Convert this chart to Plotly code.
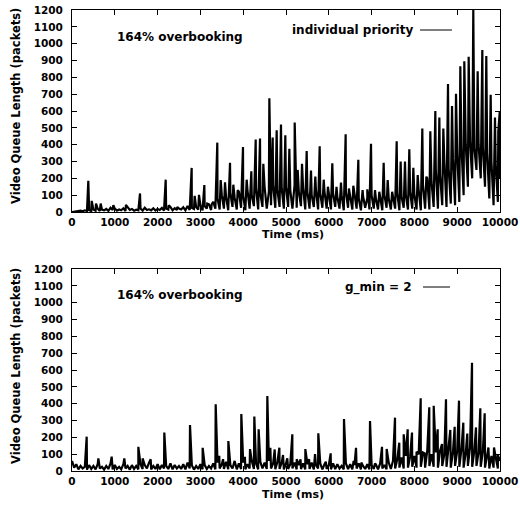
import plotly.graph_objects as go

# ---------------- data ----------------
bg_step_ms = 50
top_background = [
    0, 2, 5, 3, 8, 4, 10, 6, 12, 5,
    15, 8, 20, 6, 14, 10, 18, 7, 25, 12,
    20, 8, 15, 10, 22, 6, 30, 12, 18, 8,
    14, 10, 20, 8, 25, 12, 16, 10, 22, 9,
    18, 12, 24, 8, 20, 14, 30, 10, 22, 12,
    20, 15, 28, 10, 35, 12, 25, 18, 30, 14,
    40, 10, 35, 20, 45, 12, 60, 20, 80, 15,
    100, 20, 90, 10, 110, 30, 85, 15, 120, 25,
    95, 10, 130, 20, 100, 35, 140, 15, 110, 30,
    150, 20, 120, 40, 160, 25, 130, 30, 140, 20,
    150, 30, 130, 20, 160, 25, 120, 35, 140, 15,
    120, 20, 100, 30, 130, 15, 110, 25, 120, 20,
    100, 15, 110, 30, 90, 20, 100, 10, 120, 25,
    90, 15, 100, 20, 80, 10, 95, 25, 85, 15,
    100, 20, 80, 15, 90, 10, 100, 25, 80, 15,
    95, 20, 110, 10, 90, 25, 100, 15, 120, 20,
    100, 15, 130, 10, 160, 20, 200, 15, 180, 30,
    250, 20, 220, 40, 300, 30, 260, 50, 320, 40,
    350, 60, 380, 100, 400, 150, 420, 200, 380, 250,
    400, 200, 380, 150, 350, 80, 300, 40, 280, 60,
    200,
]
top_spike_times = [
    381, 460, 561, 670, 966, 1260, 1589, 2189, 2260, 2460,
    2796, 2866, 2967, 3092, 3160, 3263, 3395, 3474, 3575, 3692,
    3769, 3871, 3995, 4081, 4190, 4292, 4393, 4470, 4611, 4689,
    4782, 4883, 4984, 5078, 5203, 5273, 5374, 5483, 5584, 5685,
    5787, 5881, 5980, 6082, 6180, 6285, 6394, 6470, 6573, 6690,
    6790, 6900, 6986, 7080, 7180, 7282, 7376, 7480, 7586, 7679,
    7780, 7881, 7975, 8077, 8185, 8280, 8372, 8489, 8583, 8676,
    8785, 8879, 8972, 9073, 9166, 9268, 9376, 9478, 9587, 9680,
    9782, 9883, 9960, 9995,
]
top_spike_values = [
    186, 66, 50, 50, 40, 42, 110, 192, 40, 30,
    262, 96, 102, 160, 50, 45, 412, 190, 176, 292,
    162, 130, 386, 192, 242, 430, 436, 286, 676, 442,
    486, 520, 456, 376, 532, 250, 286, 362, 246, 210,
    390, 192, 150, 290, 150, 175, 462, 140, 156, 310,
    130, 135, 406, 130, 120, 292, 190, 120, 420, 300,
    300, 372, 262, 220, 496, 210, 480, 600, 562, 496,
    760, 630, 702, 866, 896, 922, 1200, 836, 962, 926,
    696, 562, 480, 600,
]

bottom_background = [
    60, 20, 40, 10, 30, 15, 25, 8, 35, 12,
    30, 10, 40, 15, 25, 8, 30, 12, 45, 10,
    35, 12, 25, 10, 40, 15, 30, 8, 35, 12,
    30, 10, 40, 12, 35, 15, 50, 10, 30, 12,
    40, 10, 35, 15, 30, 12, 45, 10, 35, 15,
    30, 12, 40, 10, 50, 15, 35, 8, 30, 12,
    40, 10, 35, 12, 30, 15, 45, 10, 50, 15,
    40, 12, 55, 10, 35, 15, 60, 10, 45, 12,
    50, 10, 40, 15, 60, 12, 45, 10, 55, 15,
    50, 12, 60, 15, 45, 10, 55, 12, 50, 10,
    45, 12, 40, 15, 50, 10, 35, 12, 45, 10,
    40, 12, 50, 10, 35, 15, 45, 10, 40, 12,
    35, 10, 45, 12, 40, 15, 30, 10, 45, 12,
    40, 10, 35, 15, 45, 10, 30, 12, 40, 10,
    35, 12, 40, 10, 45, 15, 35, 10, 50, 12,
    60, 15, 70, 20, 80, 15, 90, 20, 85, 25,
    90, 20, 100, 25, 110, 20, 120, 30, 100, 25,
    110, 20, 120, 30, 100, 25, 130, 20, 110, 30,
    120, 25, 130, 20, 110, 30, 140, 25, 120, 30,
    110, 25, 120, 20, 100, 15, 90, 20, 80, 15,
    60,
]
bottom_spike_times = [
    343, 616, 927, 1222, 1550, 1650, 1838, 2157, 2757, 3053,
    3357, 3440, 3530, 3653, 3956, 4040, 4159, 4260, 4361, 4564,
    4634, 4736, 4845, 4930, 5030, 5148, 5250, 5340, 5452, 5540,
    5678, 5755, 5930, 6044, 6355, 6580, 6636, 6760, 6963, 7080,
    7243, 7352, 7547, 7647, 7750, 7843, 7944, 8050, 8147, 8240,
    8348, 8451, 8544, 8645, 8738, 8839, 8941, 9042, 9143, 9236,
    9346, 9439, 9540, 9642, 9730, 9860, 9950,
]
bottom_spike_values = [
    204, 75, 85, 75, 144, 75, 70, 228, 273, 138,
    396, 90, 70, 178, 339, 85, 130, 323, 248, 446,
    138, 128, 138, 95, 75, 218, 70, 70, 130, 70,
    100, 224, 55, 105, 309, 60, 138, 50, 297, 45,
    144, 131, 317, 168, 218, 248, 228, 115, 432, 105,
    378, 388, 248, 160, 426, 244, 263, 418, 287, 222,
    643, 259, 372, 343, 140, 140, 95,
]

x_ticks = [0, 1000, 2000, 3000, 4000, 5000, 6000, 7000, 8000, 9000, 10000]
y_ticks = [0, 100, 200, 300, 400, 500, 600, 700, 800, 900, 1000, 1100, 1200]
x_label = "Time (ms)"
y_label = "Video Queue Length (packets)"
note_text = "164% overbooking"
top_series_name = "individual priority"
bottom_series_name = "g_min = 2"


def merge(background, spike_t, spike_v):
    pts = [(i * bg_step_ms, v) for i, v in enumerate(background)]
    pts += list(zip(spike_t, spike_v))
    pts.sort(key=lambda p: p[0])
    return [p[0] for p in pts], [p[1] for p in pts]


top_x, top_y = merge(top_background, top_spike_times, top_spike_values)
bot_x, bot_y = merge(bottom_background, bottom_spike_times, bottom_spike_values)

# ---------------- figure ----------------
W, H = 520, 505
FONT = "DejaVu Sans"
fig = go.Figure()
fig.add_trace(go.Scatter(x=top_x, y=top_y, mode="lines", name=top_series_name,
                         line=dict(color="black", width=2.2), xaxis="x", yaxis="y",
                         showlegend=False))
fig.add_trace(go.Scatter(x=bot_x, y=bot_y, mode="lines", name=bottom_series_name,
                         line=dict(color="black", width=2.2), xaxis="x2", yaxis="y2",
                         showlegend=False))

xdom = [72 / W, 500 / W]
top_dom = [1 - 212 / H, 1 - 10 / H]
bot_dom = [1 - 471 / H, 1 - 269 / H]

tickfont = dict(family=FONT, size=10.5, color="black", weight="bold")
axis_common = dict(showline=True, linecolor="black", linewidth=1, mirror="ticks",
                   ticks="inside", ticklen=5, tickcolor="black", showgrid=False,
                   zeroline=False, tickfont=tickfont, automargin=False)

fig.update_layout(
    width=W, height=H,
    margin=dict(l=0, r=0, t=0, b=0, autoexpand=False),
    paper_bgcolor="white", plot_bgcolor="white",
    xaxis=dict(domain=xdom, anchor="y", range=[0, 10000], tickvals=x_ticks,
               ticktext=[str(v) for v in x_ticks], **axis_common),
    yaxis=dict(domain=top_dom, anchor="x", range=[0, 1200], tickvals=y_ticks,
               ticktext=[str(v) for v in y_ticks], ticklabelstandoff=6, **axis_common),
    xaxis2=dict(domain=xdom, anchor="y2", range=[0, 10000], tickvals=x_ticks,
                ticktext=[str(v) for v in x_ticks], **axis_common),
    yaxis2=dict(domain=bot_dom, anchor="x2", range=[0, 1200], tickvals=y_ticks,
                ticktext=[str(v) for v in y_ticks], ticklabelstandoff=6, **axis_common),
    showlegend=False,
)

afont = dict(family=FONT, size=12, color="black", weight="bold")
yfont = dict(family=FONT, size=11.5, color="black", weight="bold")
xfont = dict(family=FONT, size=11, color="black", weight="bold")
anns = []
for cy_y, note_y, leg_y, name, leg_x_end in [
    (106, 37, 30, top_series_name, 415),
    (366, 295, 287, bottom_series_name, 414),
]:
    anns.append(dict(text=y_label, x=16, y=cy_y, xref="paper", yref="paper",
                     textangle=-90, showarrow=False, font=yfont,
                     xanchor="center", yanchor="middle"))
    anns.append(dict(text=note_text, x=180, y=note_y, xref="paper", yref="paper",
                     showarrow=False, font=afont, xanchor="center", yanchor="middle"))
    anns.append(dict(text=name, x=leg_x_end, y=leg_y, xref="paper", yref="paper",
                     showarrow=False, font=afont, xanchor="right", yanchor="middle"))
anns.append(dict(text=x_label, x=293, y=235, xref="paper", yref="paper",
                 showarrow=False, font=xfont, xanchor="center", yanchor="middle"))
anns.append(dict(text=x_label, x=293, y=494, xref="paper", yref="paper",
                 showarrow=False, font=xfont, xanchor="center", yanchor="middle"))
for a in anns:
    a["x"] = a["x"] / W
    a["y"] = 1 - a["y"] / H
fig.update_layout(annotations=anns)

shapes = [
    dict(type="line", xref="paper", yref="paper", x0=420 / W, x1=452 / W,
         y0=1 - 30 / H, y1=1 - 30 / H, line=dict(color="black", width=1)),
    dict(type="line", xref="paper", yref="paper", x0=423 / W, x1=450 / W,
         y0=1 - 287 / H, y1=1 - 287 / H, line=dict(color="black", width=1)),
]
fig.update_layout(shapes=shapes)

fig.write_html("out.html",
               config={"displayModeBar": False},
               post_script="document.body.style.margin='0';"
                           "document.body.style.overflow='hidden';")
